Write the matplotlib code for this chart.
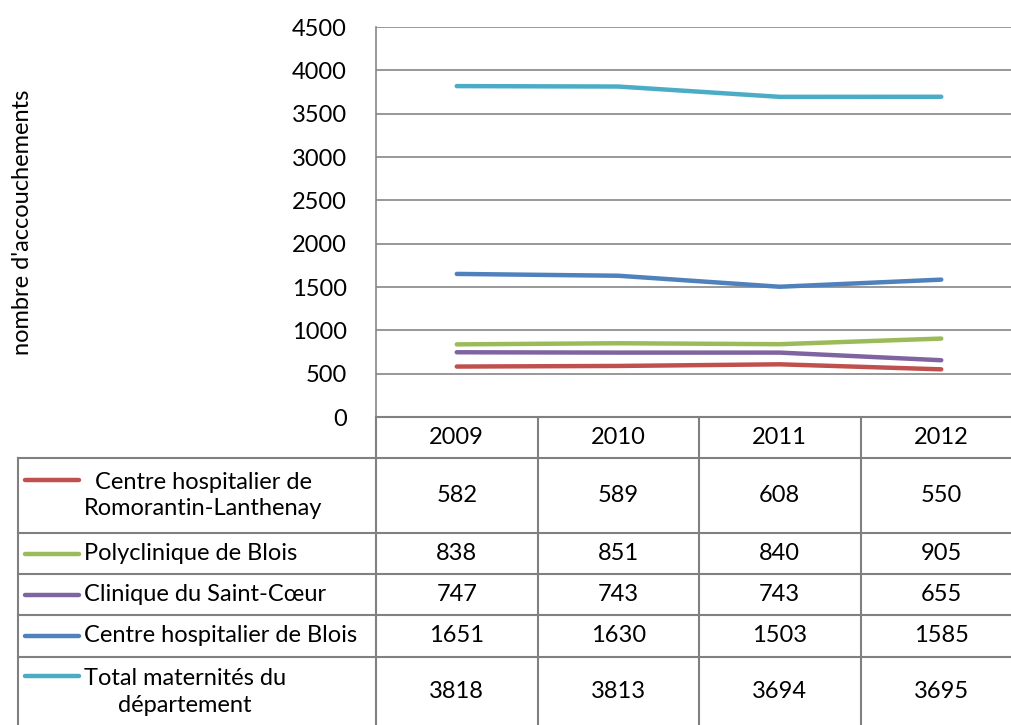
import matplotlib
matplotlib.use("Agg")
import matplotlib.pyplot as plt

plt.rcParams['font.family'] = ['Lato', 'DejaVu Sans']

years = ['2009', '2010', '2011', '2012']
names = ['Centre hospitalier de\nRomorantin-Lanthenay',
         'Polyclinique de Blois',
         'Clinique du Saint-Cœur',
         'Centre hospitalier de Blois',
         'Total maternités du\ndépartement']
romorantin = [582, 589, 608, 550]
polyclinique = [838, 851, 840, 905]
saint_coeur = [747, 743, 743, 655]
ch_blois = [1651, 1630, 1503, 1585]
total = [3818, 3813, 3694, 3695]
series = [romorantin, polyclinique, saint_coeur, ch_blois, total]
colors = ['#C0504D', '#9BBB59', '#8064A2', '#4F81BD', '#4BACC6']

W, H = 1011, 725
fs = 17
fig = plt.figure(figsize=(W / 100, H / 100), dpi=100)

# plot area in pixels
left, right, top, bottom = 376, 1022, 27, 417
ax = fig.add_axes([left / W, 1 - bottom / H, (right - left) / W, (bottom - top) / H])
x = range(len(years))
for vals, c in zip(series, colors):
    ax.plot(x, vals, color=c, lw=3.2, solid_capstyle='round')
ax.set_xlim(-0.5, len(years) - 0.5)
ax.set_ylim(0, 4500)
ax.set_yticks(range(0, 4501, 500))
ax.set_xticks([])
ax.yaxis.grid(True, color='#868686', lw=1.2)
ax.set_axisbelow(True)
for s in ['top', 'right', 'bottom']:
    ax.spines[s].set_visible(False)
ax.spines['left'].set_color('#868686')
ax.spines['left'].set_linewidth(1.2)
ax.tick_params(axis='y', length=0, pad=21, labelsize=fs)
ax.set_ylabel("nombre d'accouchements", fontsize=fs, labelpad=0)
ax.yaxis.set_label_coords((33 - left) / (right - left), 0.5)

# data table drawn in pixel space
tab = fig.add_axes([0, 0, 1, 1])
tab.set_xlim(0, W)
tab.set_ylim(H, 0)
tab.axis('off')
gc = '#808080'
colw = (right - left) / len(years)
row_edges = [458, 533, 574, 615, 657, 740]

tab.plot([left, W], [bottom, bottom], color=gc, lw=1.5)
for i in range(len(years) + 1):
    xx = left + i * colw
    tab.plot([xx, xx], [bottom, H], color=gc, lw=1.5)
for yy in row_edges:
    tab.plot([18, W], [yy, yy], color=gc, lw=1.5)
tab.plot([18, 18], [row_edges[0], H], color=gc, lw=1.5)

for i, yr in enumerate(years):
    tab.text(left + (i + 0.5) * colw, (bottom + row_edges[0]) / 2, yr,
             ha='center', va='center', fontsize=fs)

for r, (name, vals, c) in enumerate(zip(names, series, colors)):
    y0, y1 = row_edges[r], row_edges[r + 1]
    if r == 4:
        y1 = 727
    yc = (y0 + y1) / 2
    nlines = name.count('\n') + 1
    ykey = yc - (nlines - 1) * 16
    tab.plot([25, 79], [ykey, ykey], color=c, lw=3.2, solid_capstyle='round')
    tab.text(84, yc, name, ha='left', va='center', multialignment='center',
             fontsize=fs, linespacing=1.3)
    for i, v in enumerate(vals):
        tab.text(left + (i + 0.5) * colw, yc, str(v), ha='center', va='center', fontsize=fs)

fig.savefig('out.png', dpi=100)
